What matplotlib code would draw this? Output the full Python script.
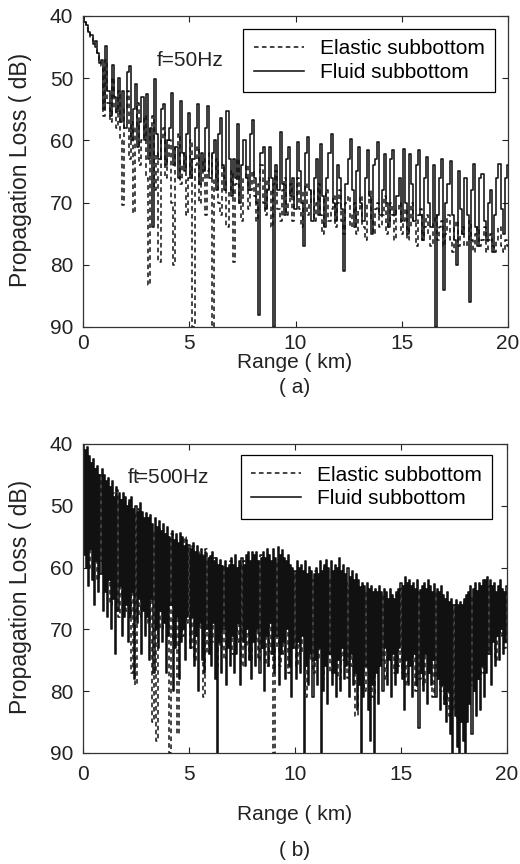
import matplotlib.pyplot as plt
import numpy as np

# ---- panel (a): f = 50 Hz, samples every 0.1 km ----
range_a = np.round(np.arange(201) * 0.1, 2)

fluid_a = [
    40.0, 41.0, 41.5, 42.5, 43.0, 44.5, 44.0, 46.0, 47.5, 47.0,
    55.0, 44.8, 52.0, 56.0, 47.8, 53.0, 55.5, 50.0, 57.0, 52.0,
    58.0, 49.0, 48.0, 60.0, 55.0, 51.0, 61.0, 57.0, 53.0, 60.0,
    52.6, 63.0, 58.0, 74.0, 50.2, 59.0, 63.0, 55.0, 54.2, 64.0,
    60.0, 58.0, 52.4, 64.0, 61.0, 66.0, 53.7, 62.0, 65.0, 59.0,
    55.6, 66.0, 63.0, 58.0, 54.2, 67.0, 62.0, 65.0, 58.0, 54.5,
    66.0, 62.0, 60.0, 68.0, 59.0, 56.4, 64.0, 68.0, 55.2, 63.0,
    69.0, 63.0, 66.0, 57.4, 70.0, 64.0, 60.0, 66.0, 68.0, 59.0,
    56.8, 66.0, 70.0, 88.0, 62.0, 61.0, 71.0, 68.0, 61.0, 66.0,
    90.0, 64.0, 68.0, 58.7, 67.0, 72.0, 63.0, 61.0, 69.0, 66.0,
    71.0, 60.3, 65.0, 70.0, 77.0, 62.0, 59.5, 68.0, 73.0, 66.0,
    63.0, 72.0, 60.6, 69.0, 74.0, 66.0, 62.0, 59.0, 70.0, 73.0,
    64.0, 66.0, 71.0, 81.0, 67.0, 63.0, 59.8, 68.0, 74.0, 65.0,
    61.0, 70.0, 73.0, 66.0, 61.6, 69.0, 75.0, 64.0, 63.0, 60.3,
    72.0, 68.0, 62.2, 70.0, 74.0, 63.0, 61.6, 72.0, 69.0, 66.0,
    73.0, 61.4, 70.0, 75.0, 62.2, 67.0, 73.0, 64.0, 61.6, 72.0,
    76.0, 66.0, 62.7, 70.0, 74.0, 64.0, 90.0, 72.0, 66.0, 63.0,
    84.0, 70.0, 67.0, 63.3, 72.0, 76.0, 80.0, 64.9, 71.0, 75.0,
    66.0, 72.0, 86.0, 68.0, 63.8, 74.0, 77.0, 66.0, 65.4, 73.0,
    76.0, 70.0, 68.0, 78.0, 72.0, 66.0, 63.8, 71.0, 75.0, 66.0,
    64.0,
]

elastic_a = [
    40.0, 41.0, 42.0, 42.5, 43.5, 44.0, 45.0, 46.0, 47.0, 48.0,
    56.0, 47.0, 54.0, 57.0, 50.0, 55.0, 58.0, 52.0, 60.0, 70.4,
    55.0, 52.0, 63.0, 57.0, 71.7, 58.0, 54.0, 64.0, 60.0, 56.0,
    66.0, 83.3, 58.0, 56.0, 68.0, 62.0, 79.5, 60.0, 58.0, 66.0,
    63.0, 60.0, 70.0, 80.0, 61.0, 59.0, 67.0, 64.0, 62.0, 72.0,
    66.0, 60.0, 90.0, 64.0, 61.0, 70.0, 67.0, 63.0, 72.0, 65.0,
    62.0, 90.0, 66.0, 63.0, 70.0, 72.0, 64.0, 66.0, 74.0, 68.0,
    65.0, 79.5, 67.0, 63.0, 70.0, 73.0, 66.0, 64.0, 71.0, 68.0,
    65.0, 69.0, 73.0, 67.0, 64.0, 70.0, 72.0, 66.0, 68.0, 74.0,
    67.0, 65.0, 71.0, 73.0, 68.0, 66.0, 72.0, 70.0, 67.0, 73.0,
    69.0, 66.0, 71.0, 74.0, 68.0, 67.0, 72.0, 70.0, 68.0, 73.0,
    70.0, 67.0, 72.0, 75.0, 69.0, 68.0, 73.0, 71.0, 69.0, 74.0,
    70.0, 68.0, 73.0, 75.0, 70.0, 69.0, 74.0, 72.0, 70.0, 75.0,
    71.0, 69.0, 74.0, 76.0, 70.0, 68.0, 73.0, 75.0, 71.0, 70.0,
    74.0, 72.0, 69.0, 75.0, 73.0, 70.0, 72.0, 76.0, 71.0, 70.0,
    75.0, 73.0, 71.0, 76.0, 74.0, 70.0, 73.0, 77.0, 72.0, 71.0,
    76.0, 74.0, 72.0, 75.0, 77.0, 73.0, 72.0, 76.0, 74.0, 73.0,
    77.0, 75.0, 72.0, 76.0, 78.0, 74.0, 73.0, 77.0, 75.0, 74.0,
    77.0, 76.0, 73.0, 76.0, 78.0, 75.0, 74.0, 77.0, 76.0, 74.0,
    78.0, 76.0, 75.0, 77.0, 78.0, 76.0, 74.0, 77.0, 78.0, 76.0,
    77.0,
]

# ---- panel (b): f = 500 Hz ----
range_b_fluid = np.round(np.arange(401) * 0.05, 3)
range_b_elastic = np.round(np.arange(201) * 0.1, 2)

fluid_b = [
    40, 58, 41, 60, 40.5, 63, 42, 57, 43, 62, 42.5, 66, 44, 59, 43.5, 64, 45, 61, 44, 67,
    45, 64, 46, 68, 45.5, 62, 47, 70, 46, 65, 48.5, 74, 47, 67, 48, 63, 49, 71, 48, 68,
    48.5, 66, 50, 72, 49, 68, 48.5, 64, 50.5, 78, 50, 69, 51, 65, 49.5, 74, 51, 67, 52, 71,
    51.2, 68, 52, 75, 51.5, 65, 53, 77, 52, 70, 53.5, 73, 52.5, 67, 54, 72, 53, 69, 54.5, 77,
    53.5, 71, 55, 66, 54, 80, 55.5, 73, 54.5, 68, 56, 78, 54.4, 72, 55, 70, 56.5, 75, 55.5, 68,
    56.3, 73, 57, 68, 56, 76, 57.5, 71, 56.5, 80, 58, 69, 57, 75, 58.2, 77, 57.5, 70, 58.5, 74,
    58.2, 76, 57.5, 69, 59, 78, 58.5, 90, 59.5, 72, 58.8, 77, 59.8, 70, 59, 79, 60, 73, 59.5, 76,
    58.5, 71, 59.5, 77, 58, 74, 60, 69, 59, 79, 58.5, 72, 59.5, 76, 58, 70, 57.5, 75, 59, 78,
    57.4, 72, 58, 76, 57.5, 70, 59, 77, 58.5, 73, 57.5, 80, 58.5, 71, 57, 76, 58, 69, 59, 74,
    57, 77, 58.5, 71, 56.6, 79, 58, 74, 57.1, 72, 58.5, 78, 59, 70, 58, 76, 59.5, 81, 60, 73,
    60.5, 78, 59, 72, 60, 77, 59.5, 71, 60.5, 90, 59, 76, 61, 79, 59.9, 74, 60.5, 81, 61, 75,
    60, 79, 61, 73, 59, 90, 60.5, 80, 59.5, 76, 58.8, 82, 60, 74, 59, 79, 60.5, 77, 59.5, 81,
    60, 75, 58.5, 80, 60.5, 73, 59.5, 78, 61, 76, 60, 81, 61.5, 74, 60.5, 79, 62, 77, 61, 83,
    62, 79, 63.1, 90, 62.5, 81, 63, 76, 62.5, 83, 63.5, 88, 63, 79, 64, 90, 63.5, 77, 64, 82,
    63, 76, 64, 80, 63.5, 73, 64, 79, 65, 75, 63.5, 81, 64.5, 74, 65, 79, 64, 77, 63.5, 73,
    62.5, 78, 63, 83, 61.5, 75, 62.5, 79, 62, 76, 63, 81, 62.5, 74, 63.5, 79, 62, 86, 63.7, 77,
    63, 80, 62.5, 74, 63.5, 82, 62, 77, 63, 79, 64, 75, 62.6, 81, 63.5, 78, 64, 83, 63, 79,
    64.5, 82, 65, 85, 64, 80, 65.5, 87, 65, 90, 66, 84, 65.3, 89, 66, 90, 65.5, 85, 66, 88,
    65, 90, 64.5, 85, 64, 82, 63, 87, 63.5, 80, 62.5, 84, 63.8, 78, 62.5, 83, 63, 76, 62, 81,
    62, 77, 61.5, 74, 62, 79, 63, 72, 62.5, 76, 64, 71, 63, 75, 62, 70, 63.5, 74, 64, 72,
    63,
]

elastic_b = [
    41, 57, 42, 60, 43, 58, 44, 62, 45, 59,
    46, 63, 47, 66, 48, 64, 47.5, 68, 49, 65,
    50, 67, 49.5, 77, 51, 79, 50.5, 68, 52, 66,
    52, 69, 53, 85, 54, 88, 53.5, 70, 54, 68,
    55, 90, 54.5, 72, 55.5, 87, 56, 71, 55, 69,
    57, 73, 56.5, 75, 57.5, 70, 58, 81, 57, 74,
    59, 72, 58.5, 76, 60, 73, 59.5, 75, 60, 71,
    59, 74, 60, 72, 59.5, 76, 59, 73, 60, 75,
    58.5, 72, 59, 75, 58, 73, 59.5, 76, 59, 74,
    90, 73, 59, 76, 58.5, 74, 60, 77, 60.5, 73,
    61, 76, 60.5, 74, 61.5, 81, 61, 75, 62, 77,
    60.5, 75, 61, 78, 60, 74, 61.5, 77, 61, 76,
    61.5, 78, 62, 75, 62.5, 77.8, 63, 76, 63.5, 84,
    64, 78, 64.5, 80, 64, 77, 65, 81, 64.5, 76,
    65, 75, 64.5, 78, 65.5, 74, 65, 77, 64.5, 76,
    63.5, 77, 64, 79, 63, 76, 64.5, 80, 64, 78,
    64.5, 79, 64, 77, 65, 81, 64, 78, 65.5, 80,
    66, 82, 66.5, 84, 67, 83, 66, 85, 67, 82,
    65.5, 81, 65, 79, 64.5, 80, 64, 78, 64.5, 77,
    63.5, 74, 63, 72, 64, 75, 64.5, 71, 65, 73,
    64,
]

x_ticks = [0, 5, 10, 15, 20]
y_ticks = [40, 50, 60, 70, 80, 90]
legend_labels = ["Elastic subbottom", "Fluid subbottom"]

W, H = 520, 864
DASH = (0, (3.0, 2.2))
INK = "#111111"


def px(x, y):
    return x / W, 1 - y / H


def style_axes(ax):
    ax.set_xlim(0, 20)
    ax.set_ylim(90, 40)
    ax.set_xticks(x_ticks)
    ax.set_yticks(y_ticks)
    ax.tick_params(direction="in", length=4, width=0.8, top=True, right=True,
                   labelsize=15, colors="#222222")
    ax.tick_params(axis="y", pad=7)
    for spine in ax.spines.values():
        spine.set_linewidth(0.9)
        spine.set_color("#333333")


def add_legend(ax, anchor):
    leg = ax.legend(loc="upper right", bbox_to_anchor=anchor,
                    handlelength=2.4, handletextpad=0.75, borderpad=0.5,
                    labelspacing=0.22, fancybox=False, framealpha=1,
                    edgecolor="black", fontsize=15, borderaxespad=0)
    leg.get_frame().set_linewidth(0.9)


def main() -> None:
    plt.rcParams["font.family"] = ["Liberation Sans", "DejaVu Sans"]
    fig = plt.figure(figsize=(W / 100, H / 100), dpi=100)

    # panel (a)
    ax_a = fig.add_axes([83 / W, 1 - 327 / H, 425 / W, 311 / H])
    ax_a.plot(range_a, elastic_a, color=INK, lw=1.1, ls=DASH,
              drawstyle="steps-mid", label=legend_labels[0])
    ax_a.plot(range_a, fluid_a, color=INK, lw=1.15,
              drawstyle="steps-mid", label=legend_labels[1])
    style_axes(ax_a)
    ax_a.tick_params(axis="x", pad=5)
    ax_a.text(3.45, 47.1, "f=50Hz", fontsize=15, va="center", color="#222222")
    add_legend(ax_a, (0.969, 0.958))

    # panel (b)
    ax_b = fig.add_axes([83 / W, 1 - 753 / H, 424 / W, 309 / H])
    ax_b.plot(range_b_elastic, elastic_b, color=INK, lw=1.1, ls=DASH,
              drawstyle="steps-mid", label=legend_labels[0])
    ax_b.plot(range_b_fluid, fluid_b, color=INK, lw=1.15,
              drawstyle="steps-mid", label=legend_labels[1])
    style_axes(ax_b)
    ax_b.tick_params(axis="x", pad=9)
    # the printed label has a stray "t" partly struck by the "="
    ax_b.text(2.07, 45.5, r"ft$\!$=500Hz", fontsize=15, va="center",
              color="#222222")
    add_legend(ax_b, (0.965, 0.964))

    # axis labels and captions
    for yc in (170, 597):
        fig.text(*px(21, yc), "Propagation Loss ( dB)", rotation=90,
                 ha="center", va="center", fontsize=16.5, color="#222222")
    fig.text(*px(295, 363), "Range ( km)", ha="center", va="center",
             fontsize=15, color="#222222")
    fig.text(*px(295, 387), "( a)", ha="center", va="center",
             fontsize=15, color="#222222")
    fig.text(*px(295, 815), "Range ( km)", ha="center", va="center",
             fontsize=15, color="#222222")
    fig.text(*px(295, 850), "( b)", ha="center", va="center",
             fontsize=15, color="#222222")

    fig.savefig("out.png", dpi=100)
    plt.close(fig)


if __name__ == "__main__":
    main()
